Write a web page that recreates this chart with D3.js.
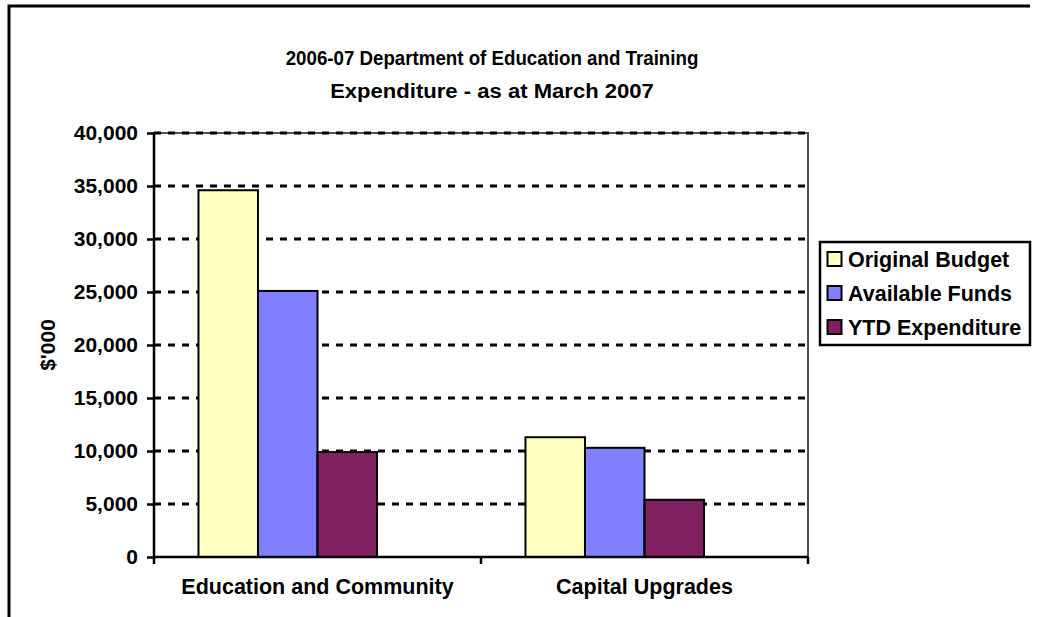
<!DOCTYPE html>
<html>
<head>
<meta charset="utf-8">
<script src="https://cdn.jsdelivr.net/npm/d3@7"></script>
<style>
  body { margin: 0; background: #fff; }
  svg { display: block; font-family: "Liberation Sans", Arial, sans-serif; font-weight: bold; }
</style>
</head>
<body>
<svg id="chart"></svg>
<script>
// values ($'000)
var categories = ["Education and Community", "Capital Upgrades"];
var seriesNames = ["Original Budget", "Available Funds", "YTD Expenditure"];
var originalBudget = [34600, 11300];
var availableFunds = [25100, 10300];
var ytdExpenditure = [9900, 5400];
var yTicks = [0, 5000, 10000, 15000, 20000, 25000, 30000, 35000, 40000];
var titleLines = ["2006-07 Department of Education and Training", "Expenditure - as at March 2007"];

var seriesColors = ["#FFFFC0", "#8080FF", "#802060"];

var width = 1038, height = 617;
var plot = { left: 154, right: 808, top: 133, bottom: 557 };
var labelSize = 21;

var svg = d3.select("#chart")
    .attr("width", width)
    .attr("height", height);

// outer frame of the chart object (only top and left edge are in the picture)
svg.append("path")
    .attr("d", "M9,617 V6 H1030")
    .attr("fill", "none")
    .attr("stroke", "#000")
    .attr("stroke-width", 3);

var x0 = d3.scaleBand()
    .domain(categories)
    .range([plot.left, plot.right])
    .paddingInner(0.272)
    .paddingOuter(0.136);

// four slots per group, the last one stays empty like in the source
var x1 = d3.scaleBand()
    .domain(seriesNames)
    .range([0, x0.bandwidth() * 3 / 4]);

var y = d3.scaleLinear()
    .domain([0, 40000])
    .range([plot.bottom, plot.top]);

// plot area border
svg.append("rect")
    .attr("x", plot.left)
    .attr("y", plot.top)
    .attr("width", plot.right - plot.left)
    .attr("height", plot.bottom - plot.top)
    .attr("fill", "none")
    .attr("stroke", "#505050")
    .attr("stroke-width", 2);

// dashed gridlines
svg.append("g")
    .selectAll("line")
    .data(yTicks.filter(function (d) { return d > 0; }))
    .enter()
    .append("line")
    .attr("x1", plot.left)
    .attr("x2", plot.right)
    .attr("y1", function (d) { return y(d); })
    .attr("y2", function (d) { return y(d); })
    .attr("stroke", "#000")
    .attr("stroke-width", 3)
    .attr("stroke-dasharray", "7,7");

var rows = categories.map(function (c, i) {
    return { category: c, values: [originalBudget[i], availableFunds[i], ytdExpenditure[i]] };
});

var groups = svg.append("g")
    .selectAll("g")
    .data(rows)
    .enter()
    .append("g")
    .attr("transform", function (d) { return "translate(" + x0(d.category) + ",0)"; });

groups.selectAll("rect")
    .data(function (d) {
        return d.values.map(function (v, j) { return { name: seriesNames[j], value: v, color: seriesColors[j] }; });
    })
    .enter()
    .append("rect")
    .attr("x", function (d) { return x1(d.name); })
    .attr("width", x1.bandwidth())
    .attr("y", function (d) { return y(d.value); })
    .attr("height", function (d) { return plot.bottom - y(d.value); })
    .attr("fill", function (d) { return d.color; })
    .attr("stroke", "#000")
    .attr("stroke-width", 2);

// y axis
var yAxis = svg.append("g")
    .attr("transform", "translate(" + plot.left + ",0)")
    .call(d3.axisLeft(y).tickValues(yTicks).tickSize(7).tickPadding(9).tickFormat(d3.format(",")));

yAxis.select(".domain").attr("stroke-width", 2.5).attr("d", "M0," + plot.top + "V" + plot.bottom);
yAxis.selectAll(".tick line").attr("stroke-width", 2.5);
yAxis.selectAll("text")
    .attr("font-size", labelSize)
    .attr("font-family", "Liberation Sans, Arial, sans-serif")
    .attr("font-weight", "bold")
    .attr("fill", "#000");

// x axis: labels under each group, ticks on the group boundaries
var xAxis = svg.append("g")
    .attr("transform", "translate(0," + plot.bottom + ")")
    .call(d3.axisBottom(x0).tickSize(0).tickPadding(22));

xAxis.select(".domain").attr("stroke-width", 2.5).attr("d", "M" + plot.left + ",0H" + plot.right);
xAxis.selectAll("text")
    .attr("font-size", labelSize + 0.5)
    .attr("font-family", "Liberation Sans, Arial, sans-serif")
    .attr("font-weight", "bold")
    .attr("fill", "#000");

xAxis.selectAll(".boundary")
    .data(d3.range(categories.length + 1))
    .enter()
    .append("line")
    .attr("class", "boundary")
    .attr("x1", function (i) { return plot.left + i * x0.step(); })
    .attr("x2", function (i) { return plot.left + i * x0.step(); })
    .attr("y1", 0)
    .attr("y2", 7)
    .attr("stroke", "#000")
    .attr("stroke-width", 2.5);

// y axis title
svg.append("text")
    .attr("transform", "translate(48," + ((plot.top + plot.bottom) / 2) + ") rotate(-90)")
    .attr("text-anchor", "middle")
    .attr("dy", "0.35em")
    .attr("font-size", labelSize)
    .text("$'000");

// chart title, each line squeezed/stretched to the width it has in the source
var titleWidths = [413, 324];
svg.append("g")
    .selectAll("text")
    .data(titleLines)
    .enter()
    .append("text")
    .attr("text-anchor", "middle")
    .attr("font-size", 21)
    .text(function (d) { return d; })
    .attr("transform", function (d, i) {
        var sx = titleWidths[i] / this.getComputedTextLength();
        return "translate(492," + (65 + i * 33) + ") scale(" + sx + ",1)";
    });

// legend
var legend = svg.append("g")
    .attr("transform", "translate(820,242)");

legend.append("rect")
    .attr("width", 210)
    .attr("height", 103)
    .attr("fill", "#fff")
    .attr("stroke", "#000")
    .attr("stroke-width", 2.5);

var legendItems = legend.selectAll(".item")
    .data(seriesNames)
    .enter()
    .append("g")
    .attr("class", "item")
    .attr("transform", function (d, i) { return "translate(0," + (17.5 + i * 34) + ")"; });

legendItems.append("rect")
    .attr("x", 7.5)
    .attr("y", -7.5)
    .attr("width", 14)
    .attr("height", 14)
    .attr("fill", function (d, i) { return seriesColors[i]; })
    .attr("stroke", "#000")
    .attr("stroke-width", 2);

legendItems.append("text")
    .attr("x", 28)
    .attr("dy", "0.35em")
    .attr("font-size", labelSize + 0.5)
    .text(function (d) { return d; });
</script>
</body>
</html>
